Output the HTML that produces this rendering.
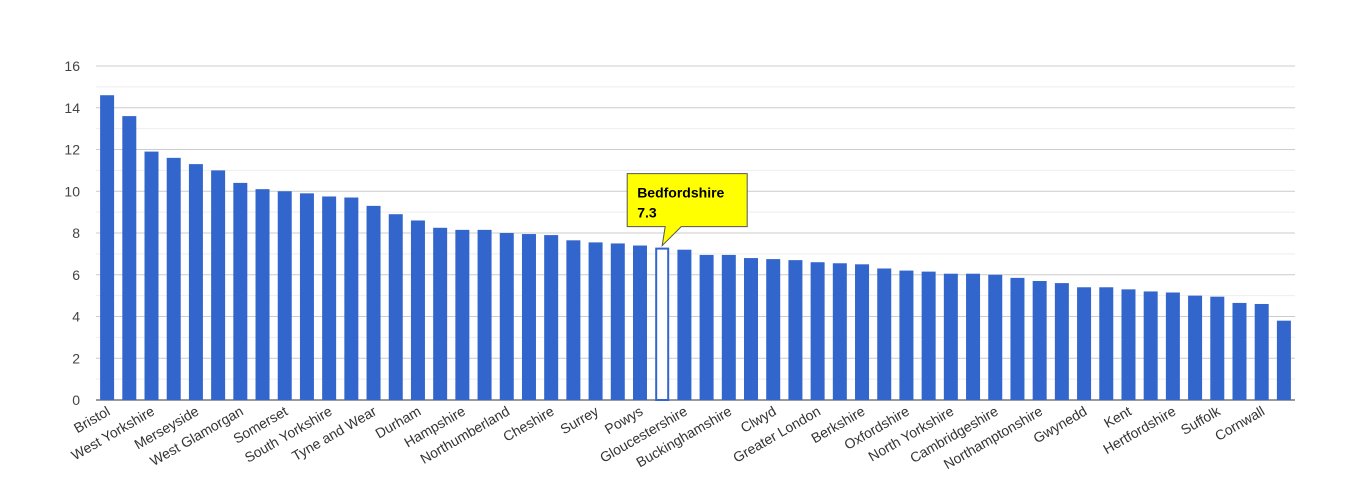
<!DOCTYPE html>
<html><head><meta charset="utf-8"><style>
body{margin:0;background:#fff;}
svg{display:block;font-family:"Liberation Sans",Arial,sans-serif;}
</style></head><body>
<svg id="chart" width="1350" height="490" viewBox="0 0 1350 490" xmlns="http://www.w3.org/2000/svg">
<g id="grid"></g>
<g id="yaxis"></g>
<g id="bars"></g>
<g id="xaxis"></g>
<g id="tip"></g>
</svg>
<script>
const categories=["Bristol","Greater Manchester","West Yorkshire","Lancashire","Merseyside","West Midlands","West Glamorgan","Nottinghamshire","Somerset","Derbyshire","South Yorkshire","Cleveland","Tyne and Wear","Humberside","Durham","Leicestershire","Hampshire","Staffordshire","Northumberland","Lincolnshire","Cheshire","Sussex","Surrey","Gwent","Powys","Bedfordshire","Gloucestershire","Dyfed","Buckinghamshire","Cumbria","Clwyd","Warwickshire","Greater London","Mid Glamorgan","Berkshire","Worcestershire","Oxfordshire","Devon","North Yorkshire","Essex","Cambridgeshire","Dorset","Northamptonshire","Shropshire","Gwynedd","Wiltshire","Kent","Norfolk","Hertfordshire","South Glamorgan","Suffolk","Herefordshire","Cornwall","Isle of Wight"];
const values=[14.6,13.6,11.9,11.6,11.3,11.0,10.4,10.1,10.0,9.9,9.75,9.7,9.3,8.9,8.6,8.25,8.15,8.15,8.0,7.95,7.9,7.65,7.55,7.5,7.4,7.3,7.2,6.95,6.95,6.8,6.75,6.7,6.6,6.55,6.5,6.3,6.2,6.15,6.05,6.05,6.0,5.85,5.7,5.6,5.4,5.4,5.3,5.2,5.15,5.0,4.95,4.65,4.6,3.8];
const yTicks=[0,2,4,6,8,10,12,14,16];
const highlight="Bedfordshire";
const NS="http://www.w3.org/2000/svg";
const L=96,R=1295,T=66,B=400,yMax=16;
const y=v=>B-(v/yMax)*(B-T);
const step=(R-L)/categories.length;
const x=i=>L+step*(i+0.5);
function mk(tag,attrs,parent){const e=document.createElementNS(NS,tag);for(const k in attrs)e.setAttribute(k,attrs[k]);parent.appendChild(e);return e;}
const grid=document.getElementById('grid'),ya=document.getElementById('yaxis'),bars=document.getElementById('bars'),xa=document.getElementById('xaxis'),tip=document.getElementById('tip');
for(let v=1;v<yMax;v+=2){const l=mk('line',{x1:L,x2:R,y1:y(v),y2:y(v),stroke:'#eeeeee'},grid);

}
yTicks.forEach(v=>{const l=mk('line',{x1:L,x2:R,y1:y(v),y2:y(v),stroke:v===0?'#333':'#cccccc'},grid);


const t=mk('text',{x:80,y:y(v)+5,'text-anchor':'end','font-size':14,fill:'#444'},ya);t.textContent=v;

});
const bw=14;
categories.forEach((c,i)=>{const hl=c===highlight;
const r=mk('rect',{x:x(i)-bw/2+(hl?1:0),y:y(values[i])+(hl?1:0),width:bw-(hl?2:0),height:B-y(values[i])-(hl?1:0),fill:hl?'#fff':'#3366cc',stroke:hl?'#3366cc':'none','stroke-width':hl?2:0},bars);


if(i%2===0){const t=mk('text',{x:x(i)+4,y:414,'text-anchor':'end','font-size':14,fill:'#333',transform:`rotate(-30 ${x(i)+4} 414)`},xa);t.textContent=c;

}});
const hi=categories.indexOf(highlight);
if(hi>=0){const hx=x(hi),hy=y(values[hi]);
const bx=hx-35,by=hy-74;
const p=mk('path',{d:`M${bx} ${by} h120 v53 h-66 l-19 19 l3 -19 h-38 z`,fill:'#ffff00',stroke:'#555','stroke-width':1},tip);


const t1=mk('text',{x:bx+10,y:by+24,'font-size':14,'font-weight':'bold',fill:'#000'},tip);t1.textContent=highlight;


const t2=mk('text',{x:bx+10,y:by+44,'font-size':14,'font-weight':'bold',fill:'#000'},tip);t2.textContent=values[hi];

}
</script>
</body></html>
